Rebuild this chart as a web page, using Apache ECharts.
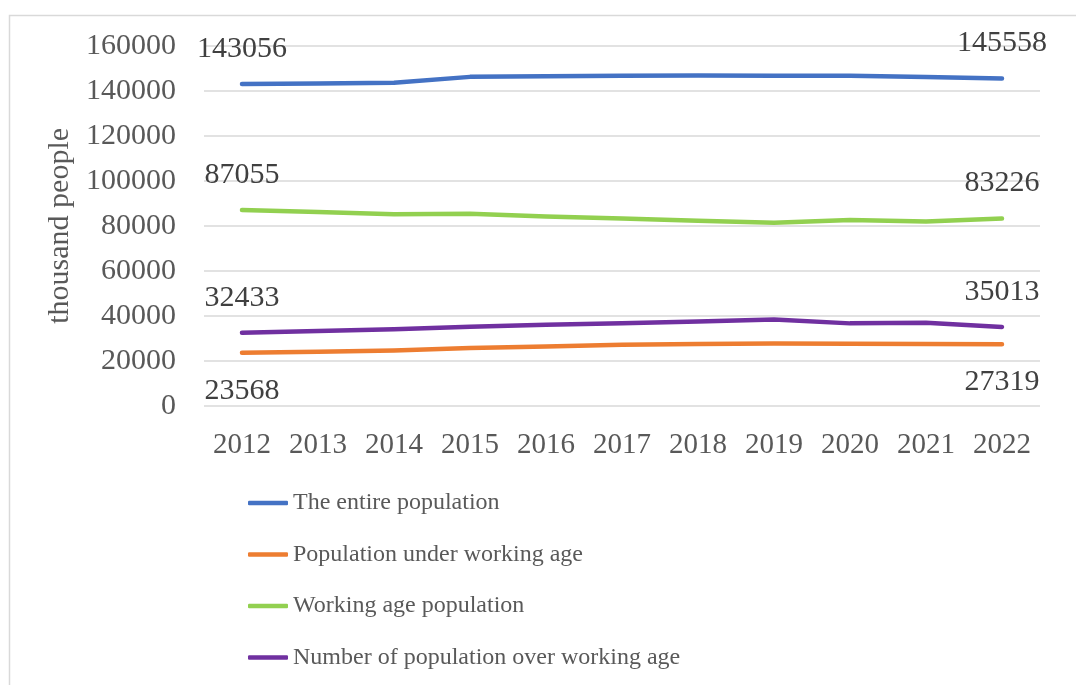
<!DOCTYPE html>
<html>
<head>
<meta charset="utf-8">
<script src="https://cdn.jsdelivr.net/npm/echarts@6/dist/echarts.min.js"></script>
<style>html,body{margin:0;padding:0;background:#fff;}#c{width:1076px;height:685px;}</style>
</head>
<body>
<div id="c"></div>
<script>
const years = ['2012','2013','2014','2015','2016','2017','2018','2019','2020','2021','2022'];
const entirePopulation = [143056, 143347, 143667, 146267, 146545, 146804, 146880, 146781, 146749, 146171, 145558];
const underWorkingAge = [23568, 24005, 24534, 25689, 26354, 27100, 27450, 27650, 27600, 27450, 27319];
const workingAge = [87055, 86137, 85162, 85415, 84199, 83224, 82264, 81362, 82627, 81882, 83226];
const overWorkingAge = [32433, 33205, 33971, 35163, 35986, 36700, 37500, 38300, 36620, 36864, 35013];
const seriesNames = ['The entire population','Population under working age','Working age population','Number of population over working age'];
const colors = ['#4472C4','#ED7D31','#92D050','#7030A0'];

const FONT = '"Liberation Serif", "Times New Roman", serif';
const TXT = '#595959';
const last = years.length - 1;

function mk(name, data, color, pos, dist) {
  return {
    name: name, type: 'line', data: data,
    symbol: 'circle', symbolSize: 0.01, showSymbol: true,
    lineStyle: { color: color, width: 4.5, cap: 'round', join: 'round' },
    itemStyle: { color: color },
    emphasis: { disabled: true },
    label: {
      show: true, position: pos, distance: dist,
      fontFamily: FONT, fontSize: 30, color: '#404040',
      formatter: p => (p.dataIndex === 0 || p.dataIndex === last) ? String(p.value) : ''
    }
  };
}

const chart = echarts.init(document.getElementById('c'), null, { renderer: 'canvas' });
chart.setOption({
  animation: false,
  backgroundColor: '#fff',
  color: colors,
  graphic: [{
    type: 'rect', shape: { x: 9.5, y: 15.5, width: 1200, height: 800 },
    style: { fill: 'none', stroke: '#D9D9D9', lineWidth: 1.5 }, silent: true, z: -10
  }],
  grid: { left: 204, right: 36, top: 46, bottom: 279.3 },
  xAxis: {
    type: 'category', data: years, boundaryGap: true,
    axisLine: { show: false }, axisTick: { show: false },
    axisLabel: { fontFamily: FONT, fontSize: 29, color: TXT, margin: 25, interval: 0 }
  },
  yAxis: {
    type: 'value', min: 0, max: 160000, interval: 20000,
    name: 'thousand people', nameLocation: 'middle', nameGap: 128,
    nameTextStyle: { fontFamily: FONT, fontSize: 30, color: TXT },
    axisLine: { show: false }, axisTick: { show: false },
    axisLabel: { fontFamily: FONT, fontSize: 30, color: TXT, margin: 28, formatter: v => String(v) },
    splitLine: { lineStyle: { color: '#D9D9D9', width: 1.5 } }
  },
  legend: {
    orient: 'vertical', left: 243, top: 483,
    itemWidth: 40, itemHeight: 4.5, itemGap: 21.5, icon: 'roundRect',
    textStyle: { fontFamily: FONT, fontSize: 24, color: TXT, lineHeight: 30 },
    data: seriesNames
  },
  series: [
    mk(seriesNames[0], entirePopulation, colors[0], 'top', 20),
    mk(seriesNames[1], underWorkingAge, colors[1], 'bottom', 23),
    mk(seriesNames[2], workingAge, colors[2], 'top', 20),
    mk(seriesNames[3], overWorkingAge, colors[3], 'top', 20)
  ]
});
</script>
</body>
</html>
